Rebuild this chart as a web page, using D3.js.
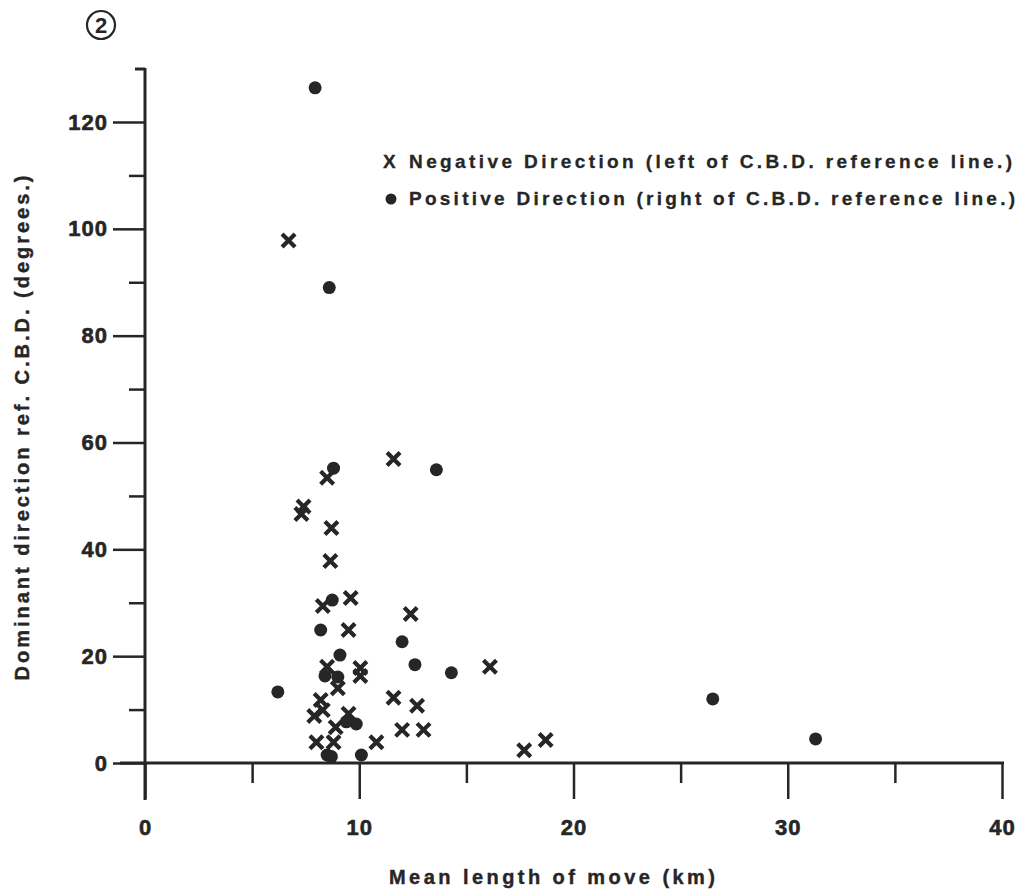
<!DOCTYPE html>
<html><head><meta charset="utf-8">
<script src="https://cdn.jsdelivr.net/npm/d3@7"></script>
<style>body{margin:0;background:#fff}svg{display:block}</style>
</head><body>
<script>
// Data
const negX = [6.7, 8.5, 11.6, 7.4, 7.3, 8.7, 8.65, 8.3, 9.6, 9.5, 12.4, 16.1, 8.5, 10.05, 10.05, 9.0, 8.2, 8.3, 7.9, 11.6, 12.7, 9.5, 8.9, 12.0, 13.0, 10.8, 8.0, 8.8, 17.7, 18.7];
const negY = [97.8, 53.4, 56.9, 48.0, 46.6, 44.0, 37.8, 29.4, 30.9, 24.9, 27.9, 18.0, 18.0, 17.8, 16.3, 14.0, 11.8, 9.9, 8.8, 12.2, 10.7, 9.2, 6.7, 6.2, 6.2, 3.9, 3.9, 3.9, 2.4, 4.3];
const posX = [7.94, 8.6, 8.8, 13.6, 8.74, 8.2, 12.0, 12.6, 14.3, 6.2, 26.5, 31.3, 9.1, 8.4, 9.0, 9.4, 9.86, 8.5, 8.7, 10.1];
const posY = [126.4, 89, 55.2, 54.9, 30.5, 24.9, 22.7, 18.4, 16.9, 13.3, 12.0, 4.5, 20.2, 16.3, 16.1, 7.7, 7.3, 1.5, 1.2, 1.5];
const xTicks = [0, 10, 20, 30, 40];
const xMinor = [5, 15, 25, 35];
const yTicks = [0, 20, 40, 60, 80, 100, 120];
const yMinor = [10, 30, 50, 70, 90, 110];
const legendLabels = ["Negative Direction (left of C.B.D. reference line.)", "Positive Direction (right of C.B.D. reference line.)"];

const W = 1018, H = 890;
const ink = "#262626";
const font = "'Liberation Sans Narrow', 'Liberation Sans', Arial, sans-serif";
const svg = d3.select("body").append("svg").attr("width", W).attr("height", H)
  .style("font-family", font);

const x = d3.scaleLinear().domain([0, 40]).range([145, 1002]);
const y = d3.scaleLinear().domain([0, 120]).range([763, 122]);

// Axis lines
svg.append("line").attr("x1", 145).attr("x2", 145).attr("y1", 68).attr("y2", 800)
  .attr("stroke", ink).attr("stroke-width", 3);
svg.append("line").attr("x1", 135).attr("x2", 145).attr("y1", 69).attr("y2", 69)
  .attr("stroke", ink).attr("stroke-width", 3);
svg.append("line").attr("x1", 120).attr("x2", 1004).attr("y1", y(0)).attr("y2", y(0))
  .attr("stroke", ink).attr("stroke-width", 3);

// Y axis ticks
const yAxis = d3.axisLeft(y).tickValues(yTicks).tickSize(32).tickPadding(5).tickFormat(d3.format("d"));
const gy = svg.append("g").attr("transform", "translate(145,0)").call(yAxis);
gy.select(".domain").remove();
gy.selectAll(".tick line").attr("stroke", ink).attr("stroke-width", 2.5);
gy.selectAll(".tick text").attr("fill", ink).attr("font-size", 22).attr("font-weight", "bold")
  .attr("stroke", ink).attr("stroke-width", 0.6)
  .attr("font-family", "'Liberation Sans', Arial, sans-serif").attr("letter-spacing", 1);
const gym = svg.append("g").attr("transform", "translate(145,0)")
  .call(d3.axisLeft(y).tickValues(yMinor).tickSize(16).tickFormat(""));
gym.select(".domain").remove();
gym.selectAll(".tick line").attr("stroke", ink).attr("stroke-width", 2.5);

// X axis ticks
const gx = svg.append("g").attr("transform", `translate(0,${y(0)})`)
  .call(d3.axisBottom(x).tickValues(xTicks).tickSize(36).tickPadding(20).tickFormat(d3.format("d")));
gx.select(".domain").remove();
gx.selectAll(".tick line").attr("stroke", ink).attr("stroke-width", 2.5);
gx.selectAll(".tick text").attr("fill", ink).attr("font-size", 22).attr("font-weight", "bold")
  .attr("stroke", ink).attr("stroke-width", 0.6)
  .attr("font-family", font).attr("letter-spacing", 1);
const gxm = svg.append("g").attr("transform", `translate(0,${y(0)})`)
  .call(d3.axisBottom(x).tickValues(xMinor).tickSize(20).tickFormat(""));
gxm.select(".domain").remove();
gxm.selectAll(".tick line").attr("stroke", ink).attr("stroke-width", 2.5);

// Axis titles
svg.append("text").attr("x", 552).attr("y", 884).attr("text-anchor", "middle")
  .attr("font-size", 20).attr("font-weight", "bold").attr("fill", ink)
  .attr("stroke", ink).attr("stroke-width", 0.4)
  .attr("textLength", 326).attr("lengthAdjust", "spacing")
  .text("Mean length of move (km)");
svg.append("text").attr("transform", "translate(29,428) rotate(-90)").attr("text-anchor", "middle")
  .attr("font-size", 20).attr("font-weight", "bold").attr("fill", ink)
  .attr("stroke", ink).attr("stroke-width", 0.4)
  .attr("textLength", 505).attr("lengthAdjust", "spacing")
  .text("Dominant direction ref. C.B.D. (degrees.)");

// Circled 2
svg.append("circle").attr("cx", 101).attr("cy", 25).attr("r", 14)
  .attr("fill", "none").attr("stroke", ink).attr("stroke-width", 2.2);
svg.append("text").attr("x", 101).attr("y", 33).attr("text-anchor", "middle")
  .attr("font-size", 22).attr("font-weight", "bold").attr("fill", ink).text("2");

// Marks
const crossPath = (s) => `M${-s},${-s}L${s},${s}M${-s},${s}L${s},${-s}`;
svg.append("g").selectAll("path").data(d3.range(negX.length)).join("path")
  .attr("transform", i => `translate(${x(negX[i])},${y(negY[i])})`)
  .attr("d", crossPath(6.5))
  .attr("stroke", ink).attr("stroke-width", 4.2).attr("fill", "none");
svg.append("g").selectAll("circle").data(d3.range(posX.length)).join("circle")
  .attr("cx", i => x(posX[i])).attr("cy", i => y(posY[i])).attr("r", 6.5)
  .attr("fill", ink);

// Legend
svg.append("text").attr("x", 383).attr("y", 168).attr("font-size", 19).attr("font-weight", "bold")
  .attr("fill", ink).attr("stroke", ink).attr("stroke-width", 0.3).text("X");
svg.append("text").attr("x", 409).attr("y", 168).attr("font-size", 19).attr("font-weight", "bold")
  .attr("fill", ink).attr("stroke", ink).attr("stroke-width", 0.3)
  .attr("textLength", 603).attr("lengthAdjust", "spacing").text(legendLabels[0]);
svg.append("circle").attr("cx", 391).attr("cy", 199).attr("r", 5.5).attr("fill", ink);
svg.append("text").attr("x", 409).attr("y", 205).attr("font-size", 19).attr("font-weight", "bold")
  .attr("fill", ink).attr("stroke", ink).attr("stroke-width", 0.3)
  .attr("textLength", 606).attr("lengthAdjust", "spacing").text(legendLabels[1]);
</script>
</body></html>
